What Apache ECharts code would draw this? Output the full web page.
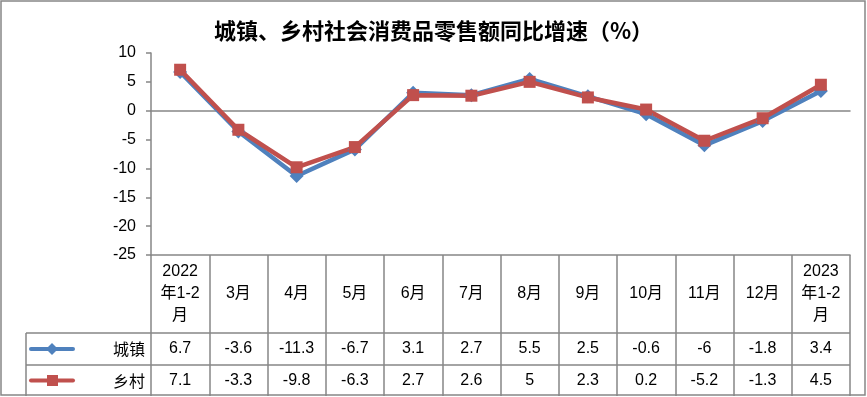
<!DOCTYPE html>
<html>
<head>
<meta charset="utf-8">
<script src="https://cdn.jsdelivr.net/npm/echarts@6/dist/echarts.min.js"></script>
<style>
  html, body { margin: 0; padding: 0; background: #fff; }
  #chart { width: 867px; height: 397px; }
</style>
</head>
<body>
<div id="chart"></div>
<script>
// 数据
const categories = ['2022\n年1-2\n月', '3月', '4月', '5月', '6月', '7月', '8月', '9月', '10月', '11月', '12月', '2023\n年1-2\n月']
const urban = [6.7, -3.6, -11.3, -6.7, 3.1, 2.7, 5.5, 2.5, -0.6, -6, -1.8, 3.4]
const rural = [7.1, -3.3, -9.8, -6.3, 2.7, 2.6, 5, 2.3, 0.2, -5.2, -1.3, 4.5]
const yTicks = { min: -25, max: 10, interval: 5 }

const blue = '#4F81BD'
const red = '#C0504D'
const grey = '#868686'
const font = 'Liberation Sans, Noto Sans CJK SC, sans-serif'

// 布局
const gl = 151, gr = 850, gt = 53, gb = 255
const row1 = 333, row2 = 365, row3 = 396
const tableLeft = 26

const tableAxis = (data, offset, margin, tickLen, extra) => Object.assign({
  type: 'category',
  data: data,
  position: 'bottom',
  offset: offset,
  boundaryGap: true,
  axisLine: { show: false, onZero: false },
  axisTick: { show: true, interval: 0, length: tickLen, lineStyle: { color: grey, width: 1.5 } },
  axisLabel: {
    interval: 0, margin: margin, color: '#000', fontSize: 16, fontFamily: font,
    verticalAlign: 'middle', lineHeight: 22
  },
  splitLine: { show: false }
}, extra || {})

var myChart = echarts.init(document.getElementById('chart'))
myChart.setOption({
  animation: false,
  title: {
    text: '城镇、乡村社会消费品零售额同比增速（%）',
    left: 'center',
    top: 15,
    textStyle: { fontSize: 22, fontWeight: 'bold', color: '#000', fontFamily: 'Noto Sans CJK SC' }
  },
  grid: { left: gl, right: 867 - gr, top: gt, bottom: 397 - gb },
  xAxis: [
    {
      // 零线
      type: 'category',
      data: categories,
      boundaryGap: true,
      axisLine: { show: true, onZero: true, lineStyle: { color: grey, width: 1.5 } },
      axisTick: { show: false },
      axisLabel: { show: false }
    },
    tableAxis(categories, 0, (row1 - gb) / 2, row1 - gb, {
      axisLine: { show: true, onZero: false, lineStyle: { color: grey, width: 1.5 } }
    }),
    tableAxis(urban.map(String), row1 - gb, (row2 - row1) / 2, row2 - row1),
    tableAxis(rural.map(String), row2 - gb, (row3 - row2) / 2, row3 - row2)
  ],
  yAxis: {
    type: 'value',
    min: yTicks.min,
    max: yTicks.max,
    interval: yTicks.interval,
    axisLine: { show: true, lineStyle: { color: grey, width: 1.5 } },
    axisTick: { show: true, length: 5, lineStyle: { color: grey, width: 1.5 } },
    axisLabel: { color: '#000', fontSize: 16, fontFamily: font, margin: 15 },
    splitLine: { show: false }
  },
  series: [
    {
      name: '城镇',
      type: 'line',
      data: urban,
      symbol: 'diamond',
      symbolSize: 14,
      lineStyle: { color: blue, width: 4.5 },
      itemStyle: { color: blue }
    },
    {
      name: '乡村',
      type: 'line',
      data: rural,
      symbol: 'rect',
      symbolSize: 12,
      lineStyle: { color: red, width: 4.5 },
      itemStyle: { color: red }
    }
  ],
  graphic: [
    { type: 'rect', shape: { x: 1, y: 1, width: 864, height: 394 }, style: { fill: null, stroke: grey, lineWidth: 1.5 }, silent: true },
    { type: 'line', shape: { x1: tableLeft, y1: row1, x2: gr, y2: row1 }, style: { stroke: grey, lineWidth: 1.5 } },
    { type: 'line', shape: { x1: tableLeft, y1: row2, x2: gr, y2: row2 }, style: { stroke: grey, lineWidth: 1.5 } },
    { type: 'line', shape: { x1: tableLeft, y1: row1, x2: tableLeft, y2: row3 }, style: { stroke: grey, lineWidth: 1.5 } },
    // 图例
    { type: 'line', shape: { x1: 31, y1: (row1 + row2) / 2, x2: 73, y2: (row1 + row2) / 2 }, style: { stroke: blue, lineWidth: 4, lineCap: 'round' } },
    { type: 'polygon', shape: { points: [[52, 343], [58, 349], [52, 355], [46, 349]] }, style: { fill: blue } },
    { type: 'line', shape: { x1: 31, y1: (row2 + row3) / 2, x2: 73, y2: (row2 + row3) / 2 }, style: { stroke: red, lineWidth: 4, lineCap: 'round' } },
    { type: 'rect', shape: { x: 47, y: 375, width: 11, height: 11 }, style: { fill: red } },
    { type: 'text', x: 145, y: (row1 + row2) / 2, style: { text: '城镇', fill: '#000', fontSize: 16, fontFamily: 'Noto Sans CJK SC', align: 'right', verticalAlign: 'middle' } },
    { type: 'text', x: 145, y: (row2 + row3) / 2, style: { text: '乡村', fill: '#000', fontSize: 16, fontFamily: 'Noto Sans CJK SC', align: 'right', verticalAlign: 'middle' } }
  ]
})
</script>
</body>
</html>
